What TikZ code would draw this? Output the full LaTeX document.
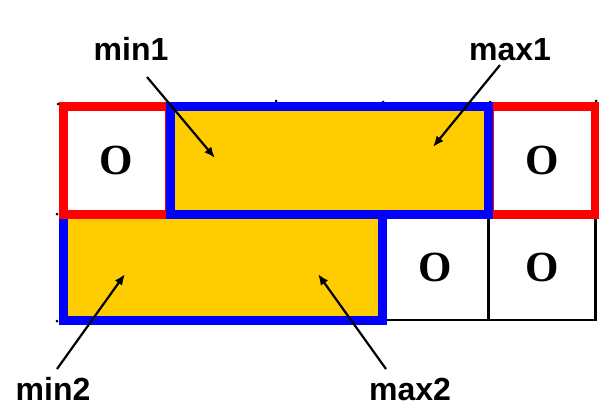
\documentclass[tikz,border=0pt]{standalone}
\usepackage{fontspec}
\setmainfont{Liberation Sans}
\newfontfamily\cellfont{Liberation Serif}
\usetikzlibrary{arrows.meta}
\definecolor{gold}{HTML}{FFCC00}
\definecolor{pblue}{HTML}{0000FF}
\definecolor{pred}{HTML}{FF0000}
\tikzset{
  cellbase/.style={inner sep=0pt, outer sep=0pt, anchor=north west,
    font=\cellfont\bfseries\fontsize{43}{43}\selectfont},
  blackcell/.style={cellbase, draw=black, line width=2.6pt, fill=white,
    minimum width=106.5pt, minimum height=106pt},
  redcell/.style={cellbase, draw=pred, line width=9pt, fill=white,
    minimum width=106.5pt, minimum height=107pt},
  bluebox/.style={cellbase, draw=pblue, line width=9pt, fill=gold,
    minimum width=#1, minimum height=106.5pt},
  lbl/.style={font=\bfseries\fontsize{32}{32}\selectfont, anchor=base, inner sep=0pt},
  arr/.style={line width=2.2pt, -{Latex[length=11pt,width=9pt]}},
  tick/.style={fill=black, inner sep=0pt, minimum size=3pt, circle}
}
\begin{document}
\begin{tikzpicture}[x=1pt,y=-1pt]
\useasboundingbox (0,0) rectangle (599,409);
% small grid ticks
\node[tick] (k1) at (58,104) {};
\node[tick] (k2) at (276,101) {};
\node[tick] (k3) at (383,102) {};
\node[tick] (k4) at (490,102) {};
\node[tick] (k5) at (596,101) {};
\node[tick] (k6) at (57,214) {};
\node[tick] (k7) at (57,321) {};
% bottom row
\node[blackcell] (c3) at (382,214) {\raisebox{-5pt}{O}};
\node[blackcell] (c4) at (489,214) {\raisebox{-5pt}{O}};
\node[bluebox=319pt] (b2) at (63,214) {};
% top row
\node[redcell] (c0) at (63,107) {\raisebox{-5pt}{O}};
\node[redcell] (c5) at (489,107) {\raisebox{-5pt}{O}};
\node[bluebox=318.5pt, minimum height=107pt] (b1) at (170,107) {};
% labels
\node[lbl] (min1) at (131,61) {min1};
\node[lbl] (max1) at (510,61) {max1};
\node[lbl] (min2) at (53,400) {min2};
\node[lbl] (max2) at (410,400) {max2};
% arrow ends
\coordinate (s1) at (147,77);
\coordinate (t1) at (215,158);
\coordinate (s2) at (500,65);
\coordinate (t2) at (433,147);
\coordinate (s3) at (57,369);
\coordinate (t3) at (125,274);
\coordinate (s4) at (386,369);
\coordinate (t4) at (318,274);
\draw[arr] (s1) -- (t1);
\draw[arr] (s2) -- (t2);
\draw[arr] (s3) -- (t3);
\draw[arr] (s4) -- (t4);
\end{tikzpicture}
\end{document}
